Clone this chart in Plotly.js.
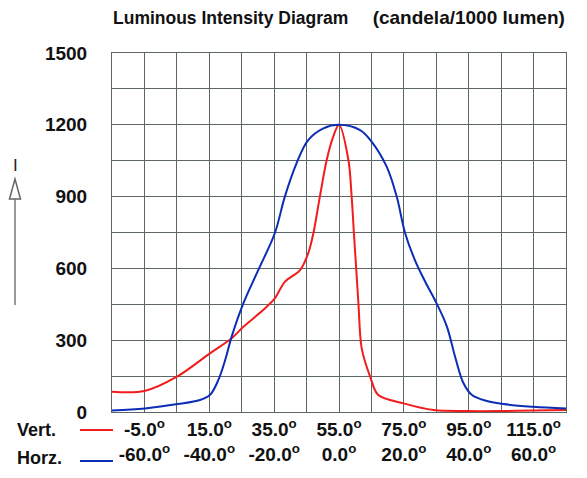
<!DOCTYPE html>
<html>
<head>
<meta charset="utf-8">
<script src="https://cdn.plot.ly/plotly-3.0.1.min.js"></script>
<style>html,body{margin:0;padding:0;background:#fff;}#chart{width:587px;height:478px;}</style>
</head>
<body>
<div id="chart"></div>
<script>
// Vertical plane (angle in degrees, candela/1000 lm)
var vertAngle = [-15, -5, 5.3, 15.2, 21.9, 25.5, 31.6, 35.2, 38.3, 43, 45.5, 47.1, 49.1, 51.2, 53.2, 55, 57.9, 58.9, 59.6, 60.3, 61, 62, 64.6, 67.1, 74.9, 84.2, 94.4, 105, 115, 125];
var vertValue = [85, 88, 150, 245, 308, 356, 426, 475, 544, 593, 663, 747, 900, 1053, 1150, 1200, 1053, 900, 747, 600, 451, 266, 148, 71, 36, 8, 4, 4, 6, 8];
// Horizontal plane
var horzAngle = [-70, -59.8, -49.7, -42.9, -39.8, -37.2, -35.1, -33.1, -29.5, -24.9, -19.8, -16.7, -13.1, -9.5, -4.8, 0, 6.5, 10.1, 14.7, 17.8, 20.4, 23.4, 26.6, 30.2, 33.3, 35.8, 38.4, 41, 45.6, 50.7, 59.9, 70];
var horzValue = [6, 15, 33, 50, 71, 134, 217, 315, 454, 593, 747, 900, 1039, 1136, 1185, 1200, 1178, 1129, 1025, 900, 747, 635, 544, 451, 356, 231, 120, 71, 46, 33, 22, 15];
// Tick labels
var vertTickVals = [-5, 15, 35, 55, 75, 95, 115];
var vertTickText = ['-5.0<sup>o</sup>', '15.0<sup>o</sup>', '35.0<sup>o</sup>', '55.0<sup>o</sup>', '75.0<sup>o</sup>', '95.0<sup>o</sup>', '115.0<sup>o</sup>'];
var horzTickVals = [-60, -40, -20, 0, 20, 40, 60];
var horzTickText = ['-60.0<sup>o</sup>', '-40.0<sup>o</sup>', '-20.0<sup>o</sup>', '0.0<sup>o</sup>', '20.0<sup>o</sup>', '40.0<sup>o</sup>', '60.0<sup>o</sup>'];
var yTickVals = [0, 300, 600, 900, 1200, 1500];
var seriesNames = ['Vert.', 'Horz.'];

var RED = '#f21c1c', BLUE = '#0c2db5', GRID = '#5d6666';
var FONT = 'Liberation Sans, Arial, sans-serif';

var traces = [
  {x: vertAngle, y: vertValue, name: seriesNames[0], type: 'scatter', mode: 'lines', xaxis: 'x', yaxis: 'y',
   line: {color: RED, width: 2, shape: 'spline', smoothing: 0.9}, hoverinfo: 'skip'},
  {x: horzAngle, y: horzValue, name: seriesNames[1], type: 'scatter', mode: 'lines', xaxis: 'x2', yaxis: 'y',
   line: {color: BLUE, width: 2, shape: 'spline', smoothing: 1.0}, hoverinfo: 'skip'}
];

// plot area pixels: x 112..566, y 53..412
function px(p) { return (p - 112) / 454; }
function py(p) { return (412 - p) / 359; }

var TF = {family: FONT, size: 19, color: '#111', weight: 'bold'};

var layout = {
  width: 587, height: 478,
  margin: {l: 112, r: 21, t: 53, b: 66},
  paper_bgcolor: '#fff', plot_bgcolor: '#fff',
  showlegend: false,
  font: {family: FONT, size: 19, color: '#111'},
  title: {text: 'Luminous Intensity Diagram\u00a0\u00a0\u00a0\u00a0\u00a0<span style="font-size:19px">(candela/1000 lumen)</span>',
          font: {family: FONT, size: 17.5, color: '#111', weight: 'bold'},
          x: 113 / 587, xanchor: 'left', xref: 'container',
          y: 1 - 18 / 478, yanchor: 'middle', yref: 'container'},
  xaxis: {range: [-15, 125], tickmode: 'array', tickvals: vertTickVals, ticktext: vertTickText,
          showgrid: true, gridcolor: GRID, gridwidth: 1, zeroline: false,
          showline: true, linecolor: GRID, linewidth: 1, mirror: true, ticks: '',
          ticklabelstandoff: 0, tickfont: TF,
          minor: {tick0: -15, dtick: 10, showgrid: true, gridcolor: GRID, gridwidth: 1, ticks: ''}},
  xaxis2: {range: [-70, 70], overlaying: 'x', anchor: 'y', side: 'bottom',
           tickmode: 'array', tickvals: horzTickVals, ticktext: horzTickText,
           showgrid: false, zeroline: false, showline: false, ticks: '',
           ticklabelstandoff: 29, tickfont: TF},
  yaxis: {range: [0, 1500], tickmode: 'array', tickvals: yTickVals,
          showgrid: true, gridcolor: GRID, gridwidth: 1, zeroline: false,
          showline: true, linecolor: GRID, linewidth: 1, mirror: true, ticks: '',
          ticklabelstandoff: 20, tickfont: TF,
          minor: {dtick: 150, showgrid: true, gridcolor: GRID, gridwidth: 1, ticks: ''}},
  shapes: [
    {type: 'line', xref: 'paper', yref: 'paper', x0: px(15), x1: px(15), y0: py(305), y1: py(199),
     line: {color: '#777', width: 1.5}},
    {type: 'path', xref: 'paper', yref: 'paper',
     path: 'M' + px(15) + ',' + py(179) + ' L' + px(9.5) + ',' + py(199) + ' L' + px(20.5) + ',' + py(199) + ' Z',
     fillcolor: '#fff', line: {color: '#666', width: 1.5}},
    {type: 'line', xref: 'paper', yref: 'paper', x0: px(80), x1: px(113), y0: py(430), y1: py(430),
     line: {color: RED, width: 2}},
    {type: 'line', xref: 'paper', yref: 'paper', x0: px(80), x1: px(113), y0: py(461), y1: py(461),
     line: {color: BLUE, width: 2}}
  ],
  annotations: [
    {text: 'I', xref: 'paper', yref: 'paper', x: px(15.5), y: py(165), xanchor: 'center', yanchor: 'middle',
     showarrow: false, font: {family: FONT, size: 17, color: '#222'}},
    {text: seriesNames[0], xref: 'paper', yref: 'paper', x: px(15), y: py(430), xanchor: 'left', yanchor: 'middle',
     showarrow: false, font: {family: FONT, size: 18, color: '#111', weight: 'bold'}},
    {text: seriesNames[1], xref: 'paper', yref: 'paper', x: px(15), y: py(458), xanchor: 'left', yanchor: 'middle',
     showarrow: false, font: {family: FONT, size: 18, color: '#111', weight: 'bold'}}
  ]
};

Plotly.newPlot('chart', traces, layout, {staticPlot: true, displayModeBar: false});
</script>
</body>
</html>
